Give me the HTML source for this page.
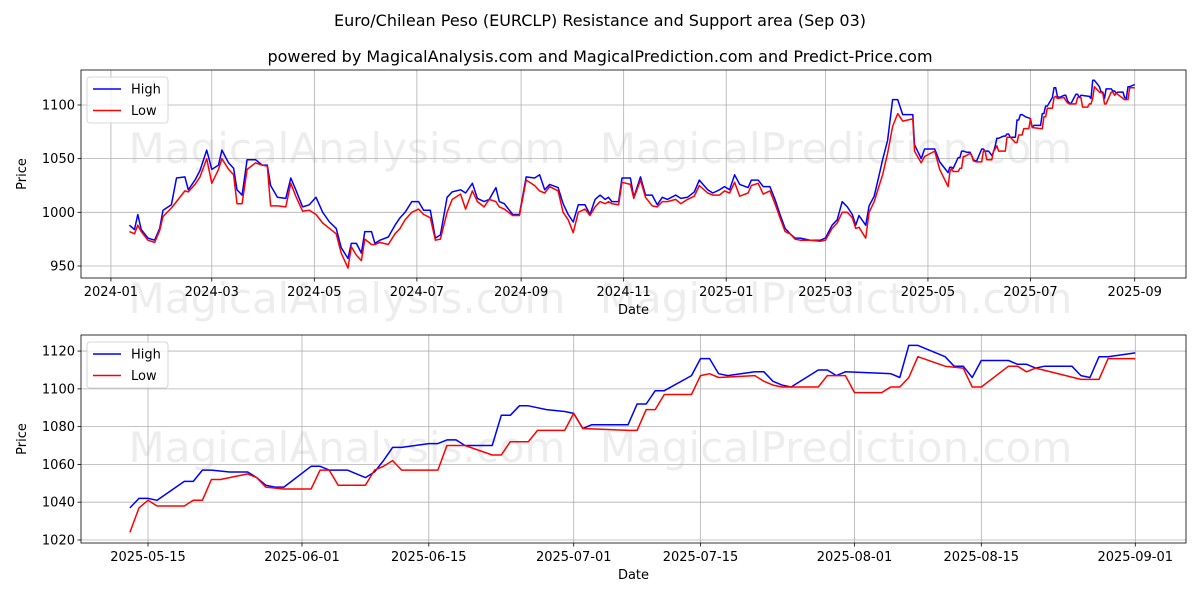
<!DOCTYPE html>
<html><head><meta charset="utf-8"><style>
body{margin:0;background:#fff;}
svg{display:block;font-family:"DejaVu Sans","Liberation Sans",sans-serif;}
</style></head><body>
<svg id="chart" width="1200" height="600" viewBox="0 0 1200 600" xmlns="http://www.w3.org/2000/svg">
<rect width="1200" height="600" fill="#fff"/>
<text x="600" y="26" text-anchor="middle" font-size="16">Euro/Chilean Peso (EURCLP) Resistance and Support area (Sep 03)</text>
<text x="600" y="62" text-anchor="middle" font-size="16">powered by MagicalAnalysis.com and MagicalPrediction.com and Predict-Price.com</text>
<g fill="#000" fill-opacity="0.07" font-size="42" text-anchor="middle">
<text x="347" y="163">MagicalAnalysis.com</text><text x="836" y="163">MagicalPrediction.com</text>
<text x="347" y="313">MagicalAnalysis.com</text><text x="836" y="313">MagicalPrediction.com</text>
<text x="347" y="462">MagicalAnalysis.com</text><text x="836" y="462">MagicalPrediction.com</text>
</g>
<g id="topPanel"></g><g id="botPanel"></g>
</svg>
<script>
const earlyDates=["2024-01-12","2024-01-15","2024-01-17","2024-01-19","2024-01-23","2024-01-27","2024-01-30","2024-02-01","2024-02-06","2024-02-09","2024-02-14","2024-02-16","2024-02-20","2024-02-23","2024-02-27","2024-03-01","2024-03-05","2024-03-07","2024-03-11","2024-03-14","2024-03-16","2024-03-19","2024-03-22","2024-03-27","2024-03-31","2024-04-03","2024-04-05","2024-04-09","2024-04-14","2024-04-17","2024-04-20","2024-04-24","2024-04-28","2024-05-02","2024-05-06","2024-05-10","2024-05-14","2024-05-17","2024-05-21","2024-05-23","2024-05-26","2024-05-29","2024-05-31","2024-06-04","2024-06-06","2024-06-09","2024-06-14","2024-06-18","2024-06-21","2024-06-24","2024-06-28","2024-07-02","2024-07-05","2024-07-09","2024-07-12","2024-07-15","2024-07-19","2024-07-22","2024-07-27","2024-07-30","2024-08-03","2024-08-06","2024-08-10","2024-08-13","2024-08-17","2024-08-19","2024-08-22","2024-08-27","2024-08-31","2024-09-04","2024-09-09","2024-09-12","2024-09-15","2024-09-18","2024-09-23","2024-09-26","2024-09-29","2024-10-02","2024-10-05","2024-10-09","2024-10-12","2024-10-15","2024-10-18","2024-10-21","2024-10-23","2024-10-25","2024-10-29","2024-10-31","2024-11-05","2024-11-07","2024-11-11","2024-11-14","2024-11-18","2024-11-21","2024-11-24","2024-11-27","2024-12-02","2024-12-05","2024-12-09","2024-12-13","2024-12-16","2024-12-21","2024-12-24","2024-12-28","2024-12-31","2025-01-03","2025-01-06","2025-01-09","2025-01-14","2025-01-16","2025-01-20","2025-01-23","2025-01-27","2025-01-30","2025-02-02","2025-02-05","2025-02-08","2025-02-11","2025-02-14","2025-02-20","2025-02-26","2025-03-01","2025-03-05","2025-03-08","2025-03-11","2025-03-14","2025-03-17","2025-03-19","2025-03-21","2025-03-25","2025-03-27","2025-03-30","2025-04-02","2025-04-04","2025-04-07","2025-04-10","2025-04-13","2025-04-16","2025-04-22","2025-04-23","2025-04-27","2025-04-29","2025-05-05","2025-05-08"];
const earlyHigh=[988,984,998,984,976,974,985,1002,1007,1032,1033,1021,1030,1039,1058,1040,1044,1058,1046,1041,1021,1016,1049,1049,1044,1044,1025,1014,1013,1032,1021,1005,1007,1014,1000,991,985,967,957,971,971,962,982,982,971,974,977,988,995,1000,1010,1010,1002,1002,976,979,1014,1019,1021,1018,1027,1013,1010,1012,1023,1010,1008,998,998,1033,1032,1035,1021,1026,1023,1008,998,991,1007,1007,998,1012,1016,1012,1014,1010,1010,1032,1032,1014,1033,1016,1016,1007,1014,1012,1016,1013,1014,1019,1030,1021,1018,1021,1024,1021,1035,1026,1023,1030,1030,1024,1024,1012,998,985,980,976,976,974,974,976,988,993,1010,1005,998,988,997,988,1006,1015,1035,1049,1067,1105,1105,1091,1091,1063,1050,1059,1059,1047];
const earlyLow=[982,980,988,982,974,972,983,996,1004,1010,1020,1019,1026,1033,1050,1027,1040,1050,1040,1035,1008,1008,1040,1046,1044,1043,1006,1006,1005,1027,1015,1001,1002,998,990,985,980,962,948,968,960,955,975,970,970,972,970,980,985,993,1000,1003,998,995,974,975,1000,1012,1017,1003,1020,1010,1005,1012,1010,1005,1003,997,997,1030,1025,1020,1018,1024,1020,1000,993,981,1000,1003,997,1005,1010,1008,1010,1008,1007,1028,1026,1013,1030,1014,1006,1005,1010,1010,1012,1008,1012,1015,1025,1018,1016,1016,1020,1018,1028,1015,1018,1025,1027,1017,1020,1008,995,982,980,975,974,974,973,974,985,990,1000,1000,995,985,986,976,1000,1010,1025,1035,1055,1080,1092,1085,1087,1057,1046,1052,1057,1040];
const lateHighDates=["2025-05-13","2025-05-14","2025-05-15","2025-05-16","2025-05-19","2025-05-20","2025-05-21","2025-05-22","2025-05-24","2025-05-26","2025-05-27","2025-05-28","2025-05-29","2025-05-30","2025-06-02","2025-06-03","2025-06-04","2025-06-06","2025-06-08","2025-06-09","2025-06-10","2025-06-11","2025-06-12","2025-06-15","2025-06-16","2025-06-17","2025-06-18","2025-06-19","2025-06-22","2025-06-23","2025-06-24","2025-06-25","2025-06-26","2025-06-28","2025-06-30","2025-07-01","2025-07-02","2025-07-03","2025-07-07","2025-07-08","2025-07-09","2025-07-10","2025-07-11","2025-07-14","2025-07-15","2025-07-16","2025-07-17","2025-07-18","2025-07-21","2025-07-22","2025-07-23","2025-07-24","2025-07-25","2025-07-28","2025-07-29","2025-07-30","2025-07-31","2025-08-05","2025-08-06","2025-08-07","2025-08-08","2025-08-11","2025-08-12","2025-08-13","2025-08-14","2025-08-15","2025-08-18","2025-08-19","2025-08-20","2025-08-21","2025-08-22","2025-08-25","2025-08-26","2025-08-27","2025-08-28","2025-08-29","2025-09-01"];
const lateHigh=[1037,1042,1042,1041,1051,1051,1057,1057,1056,1056,1053,1049,1048,1048,1059,1059,1057,1057,1053,1056,1062,1069,1069,1071,1071,1073,1073,1070,1070,1086,1086,1091,1091,1089,1088,1087,1079,1081,1081,1092,1092,1099,1099,1107,1116,1116,1108,1107,1109,1109,1104,1102,1101,1110,1110,1107,1109,1108,1106,1123,1123,1117,1112,1112,1106,1115,1115,1113,1113,1111,1112,1112,1107,1106,1117,1117,1119];
const lateLowDates=["2025-05-13","2025-05-14","2025-05-15","2025-05-16","2025-05-19","2025-05-20","2025-05-21","2025-05-22","2025-05-23","2025-05-26","2025-05-27","2025-05-28","2025-05-30","2025-06-02","2025-06-03","2025-06-04","2025-06-05","2025-06-08","2025-06-09","2025-06-10","2025-06-11","2025-06-12","2025-06-16","2025-06-17","2025-06-19","2025-06-22","2025-06-23","2025-06-24","2025-06-26","2025-06-27","2025-06-30","2025-07-01","2025-07-02","2025-07-07","2025-07-08","2025-07-09","2025-07-10","2025-07-11","2025-07-14","2025-07-15","2025-07-16","2025-07-17","2025-07-21","2025-07-22","2025-07-23","2025-07-24","2025-07-28","2025-07-29","2025-07-31","2025-08-01","2025-08-04","2025-08-05","2025-08-06","2025-08-07","2025-08-08","2025-08-11","2025-08-13","2025-08-14","2025-08-15","2025-08-18","2025-08-19","2025-08-20","2025-08-21","2025-08-26","2025-08-28","2025-08-29","2025-09-01"];
const lateLow=[1024,1037,1041,1038,1038,1041,1041,1052,1052,1055,1053,1048,1047,1047,1057,1057,1049,1049,1057,1059,1062,1057,1057,1070,1070,1065,1065,1072,1072,1078,1078,1087,1079,1078,1078,1089,1089,1097,1097,1107,1108,1106,1107,1104,1102,1101,1101,1107,1107,1098,1098,1101,1101,1106,1117,1112,1111,1101,1101,1112,1112,1109,1111,1105,1105,1116,1116];
const topYTicks=[950,1000,1050,1100];
const topXTicks=["2024-01","2024-03","2024-05","2024-07","2024-09","2024-11","2025-01","2025-03","2025-05","2025-07","2025-09"];
const botYTicks=[1020,1040,1060,1080,1100,1120];
const botXTicks=["2025-05-15","2025-06-01","2025-06-15","2025-07-01","2025-07-15","2025-08-01","2025-08-15","2025-09-01"];

const NS="http://www.w3.org/2000/svg";
const toDay=s=>{const p=s.split('-').map(Number);return Date.UTC(p[0],p[1]-1,p[2]||1)/864e5;};
function el(tag,attrs,parent,txt){const e=document.createElementNS(NS,tag);for(const k in attrs)e.setAttribute(k,attrs[k]);if(txt!==undefined)e.textContent=txt;parent.appendChild(e);return e;}

function panel(g,cfg){
  const {L,R,T,B,d0,d1,v0,v1}=cfg;
  const xs=d=>L+(toDay(d)-d0)/(d1-d0)*(R-L);
  const ys=v=>B-(v-v0)/(v1-v0)*(B-T);
  cfg.yt.forEach(v=>{
    const y=ys(v);
    const gl=el('line',{x1:L,x2:R,y1:y,y2:y,stroke:'#b0b0b0','stroke-width':0.8},g);
    
    
    el('line',{x1:L-3.5,x2:L,y1:y,y2:y,stroke:'#000','stroke-width':0.8},g);
    const t=el('text',{x:L-6,y:y+4.5,'text-anchor':'end','font-size':13},g,String(v));
    
    
  });
  cfg.xt.forEach(d=>{
    const x=xs(d);
    const gl=el('line',{x1:x,x2:x,y1:T,y2:B,stroke:'#b0b0b0','stroke-width':0.8},g);
    
    
    el('line',{x1:x,x2:x,y1:B,y2:B+3.5,stroke:'#000','stroke-width':0.8},g);
    const t=el('text',{x:x,y:B+18,'text-anchor':'middle','font-size':13},g,d);
    
    
  });
  const clipId='c'+cfg.id;
  const cp=el('clipPath',{id:clipId},g);el('rect',{x:L,y:T,width:R-L,height:B-T},cp);
  [[cfg.hd,cfg.hv,'#0000ff','high-line'],[cfg.ld,cfg.lv,'#ff0000','low-line']].forEach(s=>{
    const pts=s[0].map((d,i)=>xs(d).toFixed(1)+','+ys(s[1][i]).toFixed(1)).join(' ');
    const pl=el('polyline',{points:pts,fill:'none',stroke:s[2],'stroke-width':1.5,'stroke-linejoin':'round','clip-path':'url(#'+clipId+')'},g);
    
    
  });
  const fr=el('rect',{x:L,y:T,width:R-L,height:B-T,fill:'none',stroke:'#000','stroke-width':0.8},g);
  
  
  const xl=el('text',{x:(L+R)/2,y:B+36,'text-anchor':'middle','font-size':13},g,'Date');
  
  
  const yl=el('text',{x:0,y:0,'text-anchor':'middle','font-size':13,transform:'translate(26,'+((T+B)/2)+') rotate(-90)'},g,'Price');
  
  
  const lg=el('g',{},g);
  
  
  el('rect',{x:L+6,y:T+7,width:81,height:46,rx:3,fill:'#fff','fill-opacity':0.8,stroke:'#ccc','stroke-width':0.8},lg);
  [['High','#0000ff'],['Low','#ff0000']].forEach((e,i)=>{
    const y=T+19+i*21.5;
    const le=el('g',{},lg);
    
    
    el('line',{x1:L+12,x2:L+40,y1:y,y2:y,stroke:e[1],'stroke-width':1.5},le);
    el('text',{x:L+50,y:y+4.5,'font-size':13},le,e[0]);
  });
}
const topG=document.getElementById('topPanel');


const botG=document.getElementById('botPanel');


const t0=toDay('2024-01-01'), b0=toDay('2025-05-15');
panel(topG,{id:1,L:81,R:1186,T:70,B:278,d0:t0-17.8,d1:t0+639.5,v0:938.8,v1:1132.6,yt:topYTicks,xt:topXTicks,
  hd:earlyDates.concat(lateHighDates),hv:earlyHigh.concat(lateHigh),ld:earlyDates.concat(lateLowDates),lv:earlyLow.concat(lateLow)});
panel(botG,{id:2,L:81,R:1186,T:335,B:543,d0:b0-7.4,d1:b0+114.6,v0:1018.4,v1:1128.5,yt:botYTicks,xt:botXTicks,
  hd:lateHighDates,hv:lateHigh,ld:lateLowDates,lv:lateLow});
</script>
</body></html>
